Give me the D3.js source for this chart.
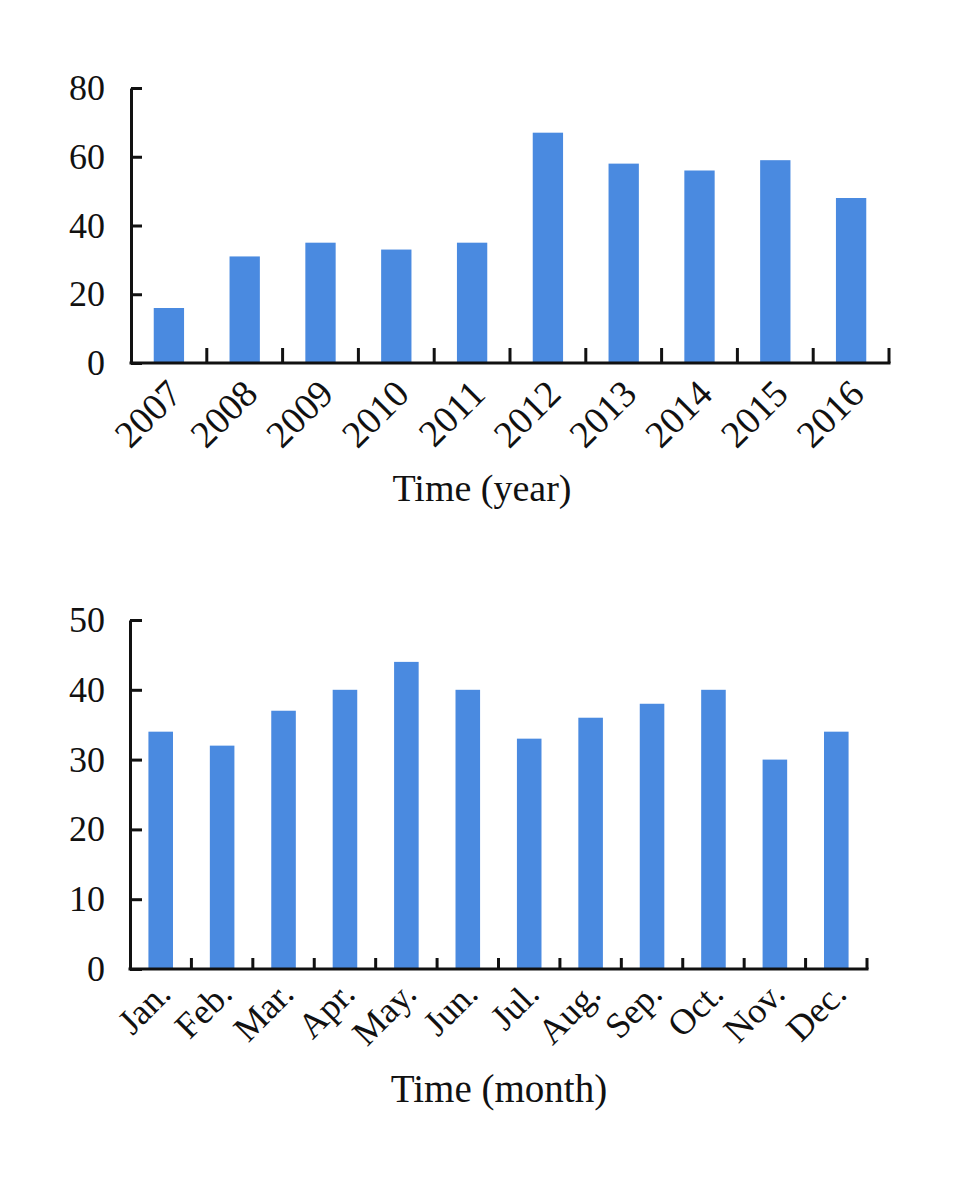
<!DOCTYPE html>
<html>
<head>
<meta charset="utf-8">
<script src="https://cdn.jsdelivr.net/npm/d3@7"></script>
<style>
  body { margin: 0; background: #fff; }
  text { font-family: "Liberation Serif", "Times New Roman", serif; fill: #111; }
</style>
</head>
<body>
<div id="chart"></div>
<script>
// yearly counts
const years = ["2007", "2008", "2009", "2010", "2011", "2012", "2013", "2014", "2015", "2016"];
const yearValues = [16, 31, 35, 33, 35, 67, 58, 56, 59, 48];
const yearTicks = [0, 20, 40, 60, 80];

// monthly counts
const months = ["Jan.", "Feb.", "Mar.", "Apr.", "May.", "Jun.", "Jul.", "Aug.", "Sep.", "Oct.", "Nov.", "Dec."];
const monthValues = [34, 32, 37, 40, 44, 40, 33, 36, 38, 40, 30, 34];
const monthTicks = [0, 10, 20, 30, 40, 50];

const barColor = "#4a8ae0";

const svg = d3.select("#chart")
    .append("svg")
    .attr("width", 960)
    .attr("height", 1185);

// draws one bar panel
function drawPanel(opts) {
    const x = d3.scaleBand()
        .domain(opts.cats)
        .range([opts.left, opts.right])
        .paddingInner(0.6)
        .paddingOuter(0.3);
    const y = d3.scaleLinear()
        .domain([0, opts.max])
        .range([opts.bottom, opts.top]);

    const g = svg.append("g");
    const data = opts.cats.map((c, i) => ({ cat: c, value: opts.values[i] }));

    g.selectAll("rect.bar")
        .data(data)
        .join("rect")
        .attr("class", "bar")
        .attr("x", (d) => x(d.cat))
        .attr("y", (d) => y(d.value))
        .attr("width", x.bandwidth())
        .attr("height", (d) => y(0) - y(d.value))
        .style("fill", barColor);

    // y axis
    const yAxis = g.append("g")
        .attr("transform", "translate(" + opts.left + ",0)")
        .call(d3.axisLeft(y).tickValues(opts.ticks).tickSizeInner(-opts.yTick).tickSizeOuter(0).tickPadding(opts.yPad));
    yAxis.select(".domain").attr("stroke", "#111").attr("stroke-width", 3);
    yAxis.selectAll(".tick line").attr("stroke", "#111").attr("stroke-width", 3);
    yAxis.selectAll("text")
        .style("font-size", opts.yFont + "px")
        .style("font-family", "'Liberation Serif', 'Times New Roman', serif")
        .attr("fill", "#111");

    // x axis, labels only
    const xAxis = g.append("g")
        .attr("transform", "translate(0," + opts.bottom + ")")
        .call(d3.axisBottom(x).tickSize(0));
    xAxis.select(".domain").remove();
    xAxis.selectAll("text")
        .attr("x", 0)
        .attr("y", 0)
        .attr("dy", 0)
        .attr("transform", "translate(" + opts.lblDx + "," + opts.lblDy + ") rotate(-45)")
        .style("text-anchor", "end")
        .style("font-size", opts.xFont + "px")
        .style("font-family", "'Liberation Serif', 'Times New Roman', serif")
        .attr("fill", "#111");

    // x baseline and boundary ticks
    g.append("line")
        .attr("x1", opts.left - 1.5)
        .attr("x2", opts.right + 1.5)
        .attr("y1", y(0))
        .attr("y2", y(0))
        .attr("stroke", "#111")
        .attr("stroke-width", 3);

    g.selectAll("line.xtick")
        .data(opts.cats)
        .join("line")
        .attr("class", "xtick")
        .attr("x1", (d) => x(d) + x.bandwidth() / 2 + x.step() / 2)
        .attr("x2", (d) => x(d) + x.bandwidth() / 2 + x.step() / 2)
        .attr("y1", y(0))
        .attr("y2", y(0) - opts.xTick)
        .attr("stroke", "#111")
        .attr("stroke-width", 3);

    g.append("text")
        .attr("x", opts.titleX)
        .attr("y", opts.titleY)
        .style("text-anchor", "middle")
        .style("font-size", opts.titleFont + "px")
        .text(opts.title);
}

drawPanel({
    cats: years, values: yearValues, ticks: yearTicks, max: 80,
    left: 131, right: 889, top: 88, bottom: 363,
    yTick: 11, yPad: 26, yFont: 36,
    xTick: 15, xFont: 38, lblDx: 15, lblDy: 33,
    title: "Time (year)", titleX: 482, titleY: 501, titleFont: 38
});

drawPanel({
    cats: months, values: monthValues, ticks: monthTicks, max: 50,
    left: 130, right: 867, top: 620, bottom: 969,
    yTick: 12, yPad: 25, yFont: 36,
    xTick: 11, xFont: 36, lblDx: 12, lblDy: 27,
    title: "Time (month)", titleX: 499, titleY: 1102, titleFont: 39
});
</script>
</body>
</html>
